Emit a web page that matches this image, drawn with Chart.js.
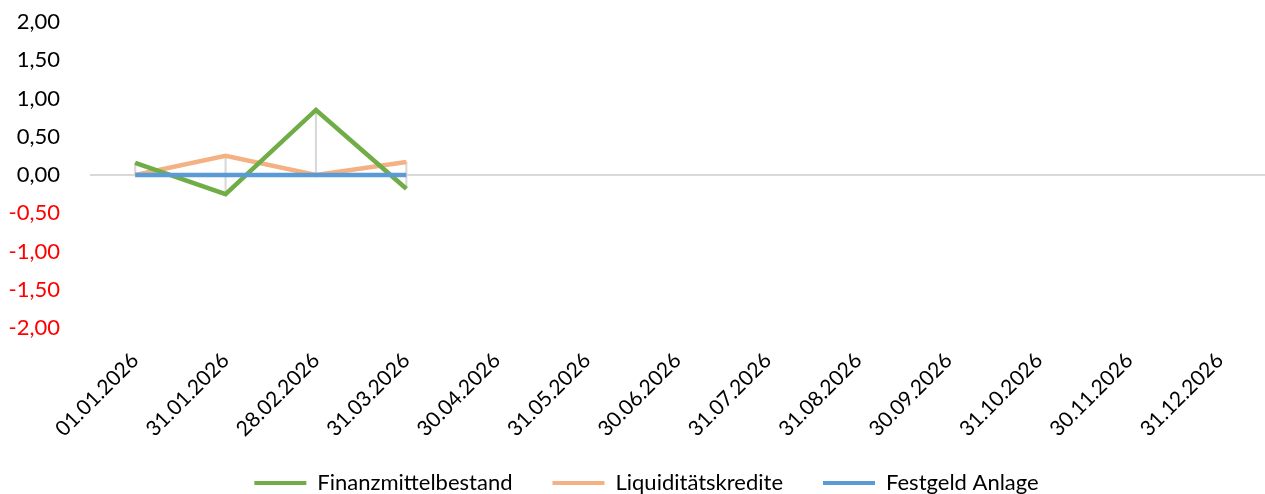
<!DOCTYPE html>
<html><head><meta charset="utf-8">
<script src="https://cdn.jsdelivr.net/npm/chart.js@4/dist/chart.umd.min.js"></script>
<style>html,body{margin:0;padding:0;background:#fff}#w{width:1265px;height:494px}</style>
</head><body><div id="w"><canvas id="c" width="1265" height="494"></canvas></div>
<script>
const categories = ["01.01.2026","31.01.2026","28.02.2026","31.03.2026","30.04.2026","31.05.2026","30.06.2026","31.07.2026","31.08.2026","30.09.2026","31.10.2026","30.11.2026","31.12.2026"];
const finanzmittelbestand = [0.16, -0.25, 0.85, -0.18, null, null, null, null, null, null, null, null, null];
const liquiditaetskredite = [0.00, 0.25, 0.00, 0.17, null, null, null, null, null, null, null, null, null];
const festgeldAnlage = [0.00, 0.00, 0.00, 0.00, null, null, null, null, null, null, null, null, null];
const yTicks = [-2, -1.5, -1, -0.5, 0, 0.5, 1, 1.5, 2];

const hiLo = categories.map((_, i) => {
  const v = [finanzmittelbestand[i], liquiditaetskredite[i], festgeldAnlage[i]].filter(x => x !== null);
  return v.length ? [Math.min(...v), Math.max(...v)] : null;
});

const FONT = "Lato";
const layoutTweak = {
  id:'layoutTweak',
  afterLayout(chart){
    if (chart.legend){ chart.legend.left += 14; chart.legend.right += 14; }
    if (chart.scales.x){ chart.scales.x.bottom += 15; }
  }
};
new Chart(document.getElementById('c'), {
  data: {
    labels: categories,
    datasets: [
      {type:'line', label:'Finanzmittelbestand', data: finanzmittelbestand, borderColor:'#70ad47', backgroundColor:'#70ad47', borderWidth:4.5, pointRadius:0, tension:0, order:1},
      {type:'line', label:'Liquiditätskredite', data: liquiditaetskredite, borderColor:'#f4b183', backgroundColor:'#f4b183', borderWidth:4.5, pointRadius:0, tension:0, order:2},
      {type:'line', label:'Festgeld Anlage', data: festgeldAnlage, borderColor:'#5b9bd5', backgroundColor:'#5b9bd5', borderWidth:4.5, pointRadius:0, tension:0, order:0},
      {type:'bar', label:'hilo', data: hiLo, backgroundColor:'#d9d9d9', barThickness:1.5, order:5}
    ]
  },
  plugins:[layoutTweak],
  options: {
    responsive:false, animation:false,
    layout:{padding:{top:22, right:0, left:0, bottom:-10}},
    plugins:{
      tooltip:{enabled:false},
      legend:{
        position:'bottom',
        labels:{
          font:{family:FONT, size:22}, color:'#000', boxWidth:52, boxHeight:4, padding:40,
          filter:(item)=> item.text !== 'hilo',
          generateLabels:(chart)=> chart.data.datasets.map((d,i)=>({text:d.label, fillStyle:d.borderColor, strokeStyle:d.borderColor, lineWidth:0, datasetIndex:i}))
        }
      }
    },
    scales:{
      x:{
        offset:true,
        grid:{display:false, drawTicks:false},
        border:{display:false},
        ticks:{font:{family:FONT, size:21}, color:'#000', maxRotation:45, minRotation:45, autoSkip:false, padding:20},
        afterFit:(s)=>{ s.height = 104; }
      },
      y:{
        min:-2, max:2,
        afterBuildTicks:(s)=>{ s.ticks = yTicks.map(v=>({value:v})); },
        grid:{drawTicks:false, color:(ctx)=> ctx.tick && ctx.tick.value === 0 ? '#d9d9d9' : 'rgba(0,0,0,0)', lineWidth:2},
        border:{display:false},
        ticks:{font:{family:FONT, size:22}, padding:30,
          color:(ctx)=> ctx.tick.value < 0 ? '#ff0000' : '#000',
          callback:(v)=> v.toFixed(2).replace('.', ',')},
        afterFit:(s)=>{ s.width = 90; s.paddingTop = 0; s.paddingBottom = 0; }
      }
    }
  }
});
</script></body></html>
